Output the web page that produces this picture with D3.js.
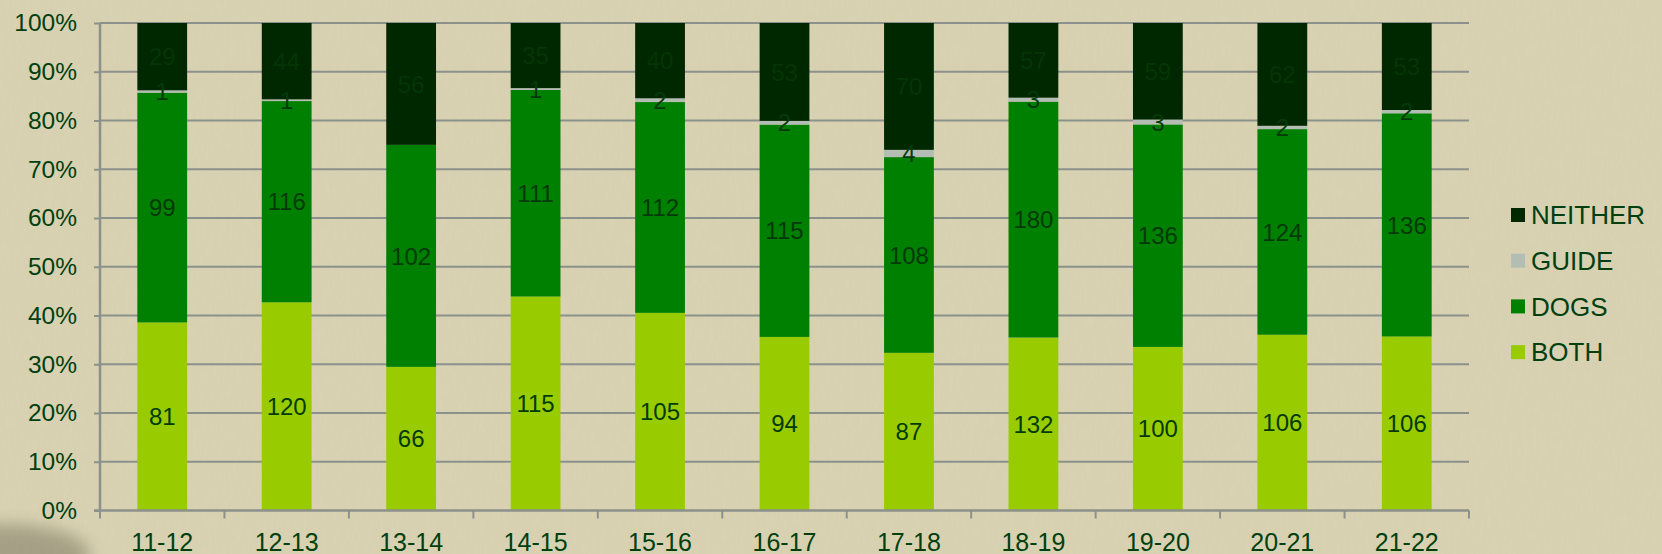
<!DOCTYPE html>
<html><head><meta charset="utf-8">
<script src="https://cdn.jsdelivr.net/npm/d3@7"></script>
<style>html,body{margin:0;padding:0;background:#d6cfae;}svg{display:block;}</style>
</head><body>
<svg id="chart" width="1662" height="554"></svg>
<script>
const categories = ["11-12","12-13","13-14","14-15","15-16","16-17","17-18","18-19","19-20","20-21","21-22"];
const both    = [81,120,66,115,105,94,87,132,100,106,106];
const dogs    = [99,116,102,111,112,115,108,180,136,124,136];
const guide   = [1,1,0,1,2,2,4,3,3,2,2];
const neither = [29,44,56,35,40,53,70,57,59,62,53];
const seriesNames = ["BOTH","DOGS","GUIDE","NEITHER"];
const seriesColors = ["#99cc00","#008000","#b3bdb3","#002800"];
const yTicks = [0,0.1,0.2,0.3,0.4,0.5,0.6,0.7,0.8,0.9,1];

const svg = d3.select("#chart");
const W = 1662, H = 554;
const FONT = "Liberation Sans, Arial, sans-serif";
const defs = svg.append("defs");
const f = defs.append("filter").attr("id","tex").attr("x",0).attr("y",0).attr("width","100%").attr("height","100%");
f.append("feTurbulence").attr("type","fractalNoise").attr("baseFrequency","0.3 0.07").attr("numOctaves",3).attr("seed",4).attr("result","n");
f.append("feColorMatrix").attr("in","n").attr("type","matrix")
 .attr("values","0 0 0 0 0.64  0 0 0 0 0.62  0 0 0 0 0.4  0.6 0 0 0 -0.1").attr("result","c");
f.append("feComposite").attr("in","c").attr("in2","SourceGraphic").attr("operator","over");

svg.append("rect").attr("width",W).attr("height",H).attr("fill","#d9d2b3").attr("filter","url(#tex)");
svg.append("ellipse").attr("cx",0).attr("cy",H).attr("rx",90).attr("ry",30).attr("fill","#6a6652").attr("opacity",0.45).attr("filter","blur(8px)");

const m = {left:100, right:1469, top:23, bottom:510.5};
const x = d3.scaleBand().domain(categories).range([m.left,m.right]).paddingInner(0.6).paddingOuter(0.3);
const y = d3.scaleLinear().domain([0,1]).range([m.bottom,m.top]);

const gridColor = "#8c918c";
const textColor = "#004010";

// gridlines
svg.append("g").selectAll("line").data(yTicks.filter(d=>d>0)).join("line")
  .attr("x1",m.left).attr("x2",m.right).attr("y1",d=>y(d)).attr("y2",d=>y(d))
  .attr("stroke",gridColor).attr("stroke-width",2);

// data stacking
const rows = categories.map((c,i)=>({cat:c, BOTH:both[i], DOGS:dogs[i], GUIDE:guide[i], NEITHER:neither[i]}));
const stack = d3.stack().keys(seriesNames).offset(d3.stackOffsetExpand);
const stacked = stack(rows);

const gBars = svg.append("g");
stacked.forEach((s,si)=>{
  gBars.append("g").attr("fill",seriesColors[si]).selectAll("rect").data(s).join("rect")
    .attr("x",d=>x(d.data.cat)).attr("width",x.bandwidth())
    .attr("y",d=>y(d[1])).attr("height",d=>Math.max(0,y(d[0])-y(d[1])));
});
// labels
stacked.forEach((s,si)=>{
  svg.append("g").selectAll("text").data(s.filter(d=>d.data[seriesNames[si]]>0)).join("text")
    .attr("x",d=>x(d.data.cat)+x.bandwidth()/2)
    .attr("y",d=>(y(d[0])+y(d[1]))/2)
    .attr("dy","0.36em")
    .attr("text-anchor","middle")
    .attr("font-family",FONT)
    .attr("font-size",24)
    .attr("fill", si===3 ? "#053505" : "#043a0a")
    .text(d=>d.data[seriesNames[si]]);
});

// axes
const yAxis = d3.axisLeft(y).tickValues(yTicks).tickFormat(d=>Math.round(d*100)+"%").tickSize(6).tickPadding(17);
const gy = svg.append("g").attr("transform",`translate(${m.left},0)`).call(yAxis);
gy.select(".domain").attr("stroke",gridColor).attr("stroke-width",2.5).attr("d",`M0,${m.top}V${m.bottom}`);
gy.selectAll(".tick line").attr("stroke",gridColor).attr("stroke-width",2);
gy.selectAll(".tick text").attr("fill",textColor).attr("font-family",FONT).attr("font-size",24.5);

const gx = svg.append("g").attr("transform",`translate(0,${m.bottom})`);
gx.append("line").attr("x1",m.left-6).attr("x2",m.right).attr("stroke",gridColor).attr("stroke-width",2.5);
const step = x.step();
const bounds = d3.range(categories.length+1).map(i=>m.left+i*step);
gx.selectAll("line.tk").data(bounds).join("line").attr("class","tk")
  .attr("x1",d=>d).attr("x2",d=>d).attr("y1",0).attr("y2",8).attr("stroke",gridColor).attr("stroke-width",2);
gx.selectAll("text").data(categories).join("text")
  .attr("x",d=>x(d)+x.bandwidth()/2).attr("y",40)
  .attr("text-anchor","middle").attr("fill",textColor)
  .attr("font-family",FONT).attr("font-size",25).text(d=>d);

// legend
const legendOrder = [3,2,1,0];
const lg = svg.append("g");
legendOrder.forEach((si,k)=>{
  const cy = 215 + k*45.7;
  lg.append("rect").attr("x",1511).attr("y",cy-7).attr("width",14).attr("height",14).attr("fill",seriesColors[si]);
  lg.append("text").attr("x",1531).attr("y",cy).attr("dy","0.36em").attr("fill",textColor)
    .attr("font-family",FONT).attr("font-size",26).text(seriesNames[si]);
});
</script>
</body></html>
